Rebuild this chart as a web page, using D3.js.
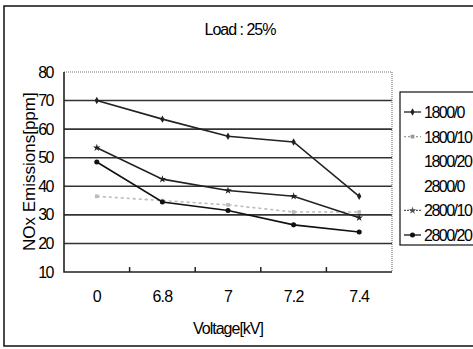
<!DOCTYPE html>
<html>
<head>
<meta charset="utf-8">
<script src="https://cdn.jsdelivr.net/npm/d3@7"></script>
<style>
  body { margin: 0; background: #fff; }
  svg text { font-family: "Liberation Sans", Arial, sans-serif; fill: #000; }
</style>
</head>
<body>
<div class="vis-chart"></div>
<script>
// data
const voltages = ["0", "6.8", "7", "7.2", "7.4"];
const yTicks = [10, 20, 30, 40, 50, 60, 70, 80];
const s1800_0 = [70, 63.5, 57.5, 55.5, 36.5];
const s1800_10 = [36.5, 35, 33.5, 31, 31];
const s2800_10 = [53.5, 42.5, 38.5, 36.5, 29];
const s2800_20 = [48.5, 34.5, 31.5, 26.5, 24];
const legendNames = ["1800/0", "1800/10", "1800/20", "2800/0", "2800/10", "2800/20"];

const W = 473, H = 349;
const margin = {top: 72, right: 81, bottom: 77, left: 64};

const svg = d3.select('.vis-chart').append('svg')
    .attr('width', W)
    .attr('height', H);

// outer frame
svg.append('rect')
    .attr('x', 4).attr('y', 6)
    .attr('width', W).attr('height', 340)
    .attr('fill', 'none')
    .attr('stroke', '#111')
    .attr('stroke-width', 1.5);

let x = d3.scaleBand()
    .domain(voltages)
    .range([margin.left, W - margin.right])
    .padding(0);

let y = d3.scaleLinear()
    .domain([10, 80])
    .range([H - margin.bottom, margin.top]);

const cx = (d, i) => x(voltages[i]) + x.bandwidth() / 2;

// grid lines
svg.append('g')
    .selectAll('line')
    .data(yTicks.filter(t => t > 10 && t < 80))
    .enter().append('line')
    .attr('x1', margin.left).attr('x2', W - margin.right)
    .attr('y1', d => y(d)).attr('y2', d => y(d))
    .attr('stroke', '#333')
    .attr('stroke-width', 1.6);

// plot border: dotted top & right
svg.append('path')
    .attr('d', `M${margin.left},${y(80)}H${W - margin.right}V${y(10)}`)
    .attr('fill', 'none')
    .attr('stroke', '#777')
    .attr('stroke-width', 1.2)
    .attr('stroke-dasharray', '1,1');

// left and bottom axis lines
svg.append('path')
    .attr('d', `M${margin.left},${y(80)}V${y(10)}H${W - margin.right}`)
    .attr('fill', 'none')
    .attr('stroke', '#222')
    .attr('stroke-width', 1.6);

// x axis
const xAxis = svg.append('g')
    .attr('transform', 'translate(0,' + (y(10) + 19) + ')')
    .call(d3.axisBottom(x).tickSize(0).tickPadding(0));
xAxis.select('.domain').remove();
xAxis.selectAll('text')
    .attr('font-size', 16)
    .attr('letter-spacing', '-0.8px')
    .attr('fill', '#000');

// small category separator ticks
svg.append('g')
    .selectAll('line')
    .data(voltages.slice(1))
    .enter().append('line')
    .attr('x1', d => x(d)).attr('x2', d => x(d))
    .attr('y1', y(10)).attr('y2', y(10) - 5)
    .attr('stroke', '#222')
    .attr('stroke-width', 1.5);

// y axis
const yAxis = svg.append('g')
    .attr('transform', 'translate(' + margin.left + ',0)')
    .call(d3.axisLeft(y).tickValues(yTicks).tickSize(0).tickPadding(11));
yAxis.select('.domain').remove();
yAxis.selectAll('text')
    .attr('font-size', 16)
    .attr('letter-spacing', '-1.5px')
    .attr('fill', '#000');

// title & axis labels
svg.append('text')
    .attr('x', 240).attr('y', 35)
    .attr('text-anchor', 'middle')
    .attr('font-size', 16)
    .attr('letter-spacing', '-1px')
    .text('Load : 25%');

svg.append('text')
    .attr('x', 228).attr('y', 334)
    .attr('text-anchor', 'middle')
    .attr('font-size', 16)
    .attr('letter-spacing', '-1px')
    .text('Voltage[kV]');

svg.append('clipPath').attr('id', 'ylab-clip')
    .append('rect').attr('x', 0).attr('y', 77).attr('width', 60).attr('height', 200);
svg.append('g')
    .attr('clip-path', 'url(#ylab-clip)')
    .append('text')
    .attr('transform', 'translate(35,251) rotate(-90)')
    .attr('text-anchor', 'start')
    .attr('font-size', 17)
    .attr('letter-spacing', '0px')
    .text('NOx Emissions[ppm]');

// series
const series = [
    {name: "1800/10", values: s1800_10, color: '#bbb', dash: '3,3', marker: 'square'},
    {name: "1800/0", values: s1800_0, color: '#222', dash: null, marker: 'cross'},
    {name: "2800/10", values: s2800_10, color: '#222', dash: null, marker: 'star'},
    {name: "2800/20", values: s2800_20, color: '#111', dash: null, marker: 'circle'}
];

const line = d3.line()
    .x((d, i) => cx(d, i))
    .y(d => y(d));

const symbolOf = {
    square: d3.symbol().type(d3.symbolSquare).size(14),
    cross: d3.symbol().type(d3.symbolDiamond).size(16),
    star: d3.symbol().type(d3.symbolStar).size(18),
    circle: d3.symbol().type(d3.symbolCircle).size(20)
};

series.forEach(s => {
    svg.append('path')
        .datum(s.values)
        .attr('d', line)
        .attr('fill', 'none')
        .attr('stroke', s.color)
        .attr('stroke-width', 1.6)
        .attr('stroke-dasharray', s.dash);
    svg.append('g')
        .selectAll('path')
        .data(s.values)
        .enter().append('path')
        .attr('transform', (d, i) => 'translate(' + cx(d, i) + ',' + y(d) + ')')
        .attr('d', symbolOf[s.marker]())
        .attr('fill', s.color);
});

// legend
const lg = svg.append('g').attr('transform', 'translate(400,92)');
lg.append('rect')
    .attr('width', 90).attr('height', 153)
    .attr('fill', '#fff')
    .attr('stroke', '#111')
    .attr('stroke-width', 1.2);

const legendStyle = {
    "1800/0": {color: '#222', dash: null, marker: 'cross'},
    "1800/10": {color: '#999', dash: '2,2', marker: 'square'},
    "1800/20": null,
    "2800/0": null,
    "2800/10": {color: '#555', dash: '2,1', marker: 'star'},
    "2800/20": {color: '#111', dash: null, marker: 'circle'}
};

legendNames.forEach((name, i) => {
    const yy = 20 + i * 24.6;
    const st = legendStyle[name];
    if (st) {
        lg.append('line')
            .attr('x1', 4).attr('x2', 21)
            .attr('y1', yy).attr('y2', yy)
            .attr('stroke', st.color)
            .attr('stroke-width', 1.3)
            .attr('stroke-dasharray', st.dash);
        lg.append('path')
            .attr('transform', 'translate(12.5,' + yy + ')')
            .attr('d', symbolOf[st.marker]())
            .attr('fill', st.color);
    }
    lg.append('text')
        .attr('x', 24).attr('y', yy + 6)
        .attr('font-size', 16)
        .attr('letter-spacing', '-1.5px')
        .text(name);
});
</script>
</body>
</html>
